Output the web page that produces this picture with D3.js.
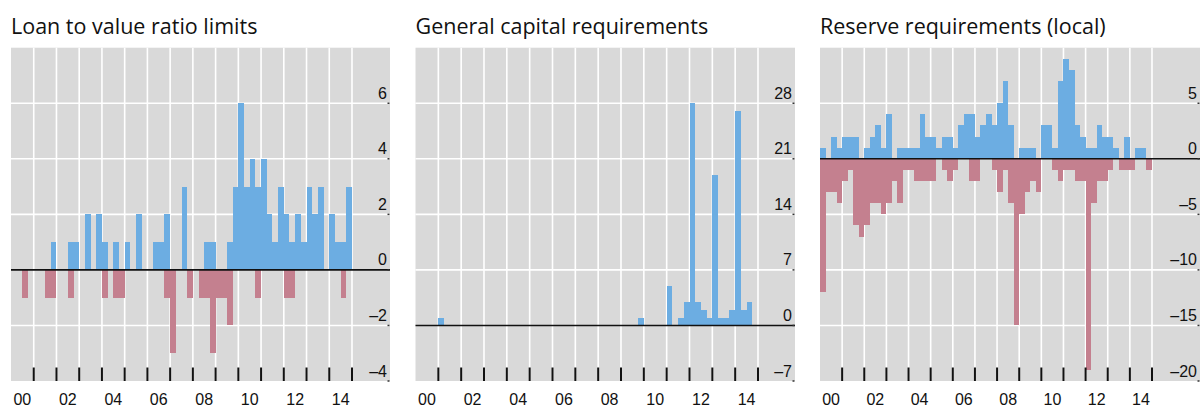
<!DOCTYPE html>
<html>
<head>
<meta charset="utf-8">
<script src="https://cdn.jsdelivr.net/npm/d3@7"></script>
<style>
  body { margin: 0; background: #fff; }
  svg { display: block; }
  .title { font-family: "Open Sans", "Noto Sans", sans-serif; font-size: 21.5px; fill: #111; }
  .tick-label { font-family: "Liberation Sans", Arial, sans-serif; font-size: 16px; fill: #111; }
</style>
</head>
<body>
<svg id="chart" width="1201" height="410"></svg>
<script>
// Quarterly counts of policy actions, 2000Q1 .. 2014Q4 (60 quarters)
const quarters = d3.range(60).map(i => 2000 + i / 4);
const yearLabels = ["00", "02", "04", "06", "08", "10", "12", "14"];
const titles = ["Loan to value ratio limits", "General capital requirements", "Reserve requirements (local)"];

// Loan to value ratio limits
const ltvTighten = [0,0,0,0, 0,0,0,1, 0,0,1,1, 0,2,0,2, 1,0,1,0, 1,0,2,0, 0,1,1,2, 0,0,3,0,
                    0,0,1,1, 0,0,1,3, 6,3,4,3, 4,2,1,3, 2,1,2,1, 3,2,3,0, 2,1,1,3];
const ltvLoosen  = [0,0,-1,0, 0,0,-1,-1, 0,0,-1,0, 0,0,0,0, -1,0,-1,-1, 0,0,0,0, 0,0,0,-1, -3,0,0,-1,
                    0,-1,-1,-3, -1,-1,-2,0, 0,0,0,-1, 0,0,0,0, -1,-1,0,0, 0,0,0,0, 0,0,-1,0];
const ltvTicks = [-4, -2, 0, 2, 4, 6];

// General capital requirements
const capTighten = [0,0,0,0, 1,0,0,0, 0,0,0,0, 0,0,0,0, 0,0,0,0, 0,0,0,0, 0,0,0,0, 0,0,0,0,
                    0,0,0,0, 0,0,0,1, 0,0,0,0, 5,0,1,3, 28,3,2,1, 19,1,1,2, 27,2,3,0];
const capLoosen  = d3.range(60).map(() => 0);
const capTicks = [-7, 0, 7, 14, 21, 28];

// Reserve requirements (local)
const rrTighten = [1,0,2,1, 2,2,2,0, 1,2,3,1, 4,0,1,1, 1,1,4,2, 2,1,2,2, 1,3,4,4, 2,3,4,3,
                   5,7,3,0, 1,1,1,0, 3,3,1,7, 9,8,3,2, 1,1,3,2, 2,1,0,2, 0,1,1,0];
const rrLoosen  = [-12,-3,-3,-4, -2,-1,-6,-7, -6,-4,-4,-5, -4,-2,-4,-1, -1,-2,-2,-2, -2,0,-1,-2,
                   -1,0,0,-2, -2,0,0,-1, -3,-1,-4,-15, -5,-3,-2,-3, 0,0,-1,-2, -1,-1,-2,-2,
                   -19,-4,-2,-2, -1,0,-1,-1, -1,0,0,-1];
const rrTicks = [-20, -15, -10, -5, 0, 5];

const panels = [
  { title: titles[0], up: ltvTighten, down: ltvLoosen, ticks: ltvTicks, domain: [-4, 8],
    left: 11, end: 352, right: 390 },
  { title: titles[1], up: capTighten, down: capLoosen, ticks: capTicks, domain: [-7, 35],
    left: 415.5, end: 758, right: 795 },
  { title: titles[2], up: rrTighten, down: rrLoosen, ticks: rrTicks, domain: [-20, 10],
    left: 820, end: 1152, right: 1200 }
];

const plotTop = 47.7, plotBottom = 381;
const svg = d3.select("#chart");
const blue = "#6cade2", pink = "#c4808f", bg = "#d9d9d9";

panels.forEach(p => {
  const g = svg.append("g");
  const x = d3.scaleLinear().domain([2000, 2015]).range([p.left, p.end]);
  const y = d3.scaleLinear().domain(p.domain).range([plotBottom, plotTop]);
  const qw = x(2000.25) - x(2000);

  g.append("text").attr("class", "title")
    .attr("x", p.left).attr("y", 34).text(p.title);

  g.append("rect").attr("x", p.left).attr("y", plotTop)
    .attr("width", p.right - p.left).attr("height", plotBottom - plotTop).attr("fill", bg);

  const years = d3.range(2001, 2016);
  // vertical grid
  g.append("g").selectAll("line").data(years).join("line")
    .attr("x1", d => x(d)).attr("x2", d => x(d))
    .attr("y1", plotTop).attr("y2", plotBottom)
    .attr("stroke", "#fff").attr("stroke-width", 1.6);
  // horizontal grid
  g.append("g").selectAll("line").data(p.ticks.filter(t => t !== 0 && t !== p.domain[0])).join("line")
    .attr("x1", p.left).attr("x2", p.right)
    .attr("y1", d => y(d)).attr("y2", d => y(d))
    .attr("stroke", "#fff").attr("stroke-width", 1.6);

  // bars: tightening above zero, loosening below
  const bars = g.append("g").attr("shape-rendering", "crispEdges");
  bars.append("g").selectAll("rect").data(p.up.map((v, i) => [quarters[i], v]).filter(d => d[1] > 0))
    .join("rect")
    .attr("x", d => x(d[0])).attr("width", qw)
    .attr("y", d => y(d[1])).attr("height", d => y(0) - y(d[1]))
    .attr("fill", blue);
  bars.append("g").selectAll("rect").data(p.down.map((v, i) => [quarters[i], v]).filter(d => d[1] < 0))
    .join("rect")
    .attr("x", d => x(d[0])).attr("width", qw)
    .attr("y", y(0)).attr("height", d => y(d[1]) - y(0))
    .attr("fill", pink);

  // zero line
  g.append("line").attr("x1", p.left).attr("x2", p.right)
    .attr("y1", y(0)).attr("y2", y(0))
    .attr("stroke", "#111").attr("stroke-width", 1.6);

  // year ticks along the bottom
  g.append("g").selectAll("line").data(years).join("line")
    .attr("x1", d => x(d)).attr("x2", d => x(d))
    .attr("y1", plotBottom - 13.5).attr("y2", plotBottom)
    .attr("stroke", "#111").attr("stroke-width", 2);

  // small marks where each labelled gridline meets the right edge
  g.append("g").selectAll("line").data(p.ticks).join("line")
    .attr("x1", p.right - 2.5).attr("x2", p.right - 0.5)
    .attr("y1", d => y(d)).attr("y2", d => y(d))
    .attr("stroke", "#333").attr("stroke-width", 1.5);

  // year labels centred on each even year
  g.append("g").selectAll("text").data(yearLabels).join("text")
    .attr("class", "tick-label")
    .attr("x", (d, i) => x(2000 + 2 * i + 0.5)).attr("y", 404.5)
    .attr("text-anchor", "middle").text(d => d);

  // value labels above each gridline on the right
  g.append("g").selectAll("text").data(p.ticks).join("text")
    .attr("class", "tick-label")
    .attr("x", p.right - 3).attr("y", d => y(d) - 4.5)
    .attr("text-anchor", "end")
    .text(d => d < 0 ? "\u2013" + Math.abs(d) : String(d));
});
</script>
</body>
</html>
